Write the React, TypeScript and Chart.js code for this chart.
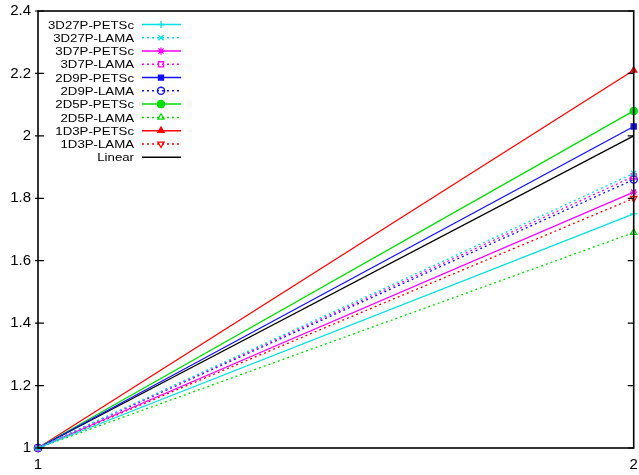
import React, { useEffect, useRef } from 'react';
import { Chart, registerables } from 'chart.js';
import { drawPoint } from 'chart.js/helpers';

Chart.register(...registerables);

// ---- data ----
const xValues = [1, 2];
const seriesNames = [
  '3D27P-PETSc', '3D27P-LAMA', '3D7P-PETSc', '3D7P-LAMA', '2D9P-PETSc', '2D9P-LAMA',
  '2D5P-PETSc', '2D5P-LAMA', '1D3P-PETSc', '1D3P-LAMA', 'Linear',
];
const s3D27P_PETSc = [1, 1.75];
const s3D27P_LAMA = [1, 1.88];
const s3D7P_PETSc = [1, 1.82];
const s3D7P_LAMA = [1, 1.87];
const s2D9P_PETSc = [1, 2.03];
const s2D9P_LAMA = [1, 1.86];
const s2D5P_PETSc = [1, 2.08];
const s2D5P_LAMA = [1, 1.69];
const s1D3P_PETSc = [1, 2.21];
const s1D3P_LAMA = [1, 1.8];
const sLinear = [1, 2];
const yTickValues = [1, 1.2, 1.4, 1.6, 1.8, 2, 2.2, 2.4];
const yTickLabels = ['1', '1.2', '1.4', '1.6', '1.8', '2', '2.2', '2.4'];
const xTickValues = [1, 2];
const xTickLabels = ['1', '2'];

const seriesValues = [
  s3D27P_PETSc, s3D27P_LAMA, s3D7P_PETSc, s3D7P_LAMA, s2D9P_PETSc, s2D9P_LAMA,
  s2D5P_PETSc, s2D5P_LAMA, s1D3P_PETSc, s1D3P_LAMA, sLinear,
];

// ---- styles ----
const CYAN = '#00e0e0';
const MAG = '#ff00ff';
const BLUE = '#1010ff';
const GREEN = '#00dd00';
const RED = '#ff0000';
const OPEN = 'rgba(255,255,255,0)';
const styles = [
  { color: CYAN, dash: [], point: 'cross', fill: CYAN },
  { color: CYAN, dash: [2, 3], point: 'crossRot', fill: CYAN },
  { color: MAG, dash: [], point: 'star', fill: MAG },
  { color: MAG, dash: [2, 3], point: 'rect', fill: OPEN },
  { color: BLUE, dash: [], point: 'rect', fill: BLUE },
  { color: BLUE, dash: [2, 3], point: 'circle', fill: OPEN },
  { color: GREEN, dash: [], point: 'circle', fill: GREEN },
  { color: GREEN, dash: [2, 3], point: 'triangle', fill: OPEN },
  { color: RED, dash: [], point: 'triangle', fill: RED },
  { color: RED, dash: [2, 3], point: 'triangle', fill: OPEN, rot: 180 },
  { color: '#000000', dash: [], point: false, fill: '#000' },
];

const FONT = '"Liberation Sans", Arial, Helvetica, sans-serif';
const PR = 3.6;

const framePlugin = {
  id: 'gnuFrame',
  afterDatasetsDraw(chart: any) {
    const ctx = chart.ctx;
    const a = chart.chartArea;
    const ys = chart.scales.y;
    ctx.save();
    ctx.strokeStyle = '#000';
    ctx.lineWidth = 1.6;
    ctx.strokeRect(a.left, a.top, a.right - a.left, a.bottom - a.top);
    ctx.lineWidth = 1.2;
    yTickValues.forEach((v) => {
      const py = ys.getPixelForValue(v);
      ctx.beginPath();
      ctx.moveTo(a.left - 3, py);
      ctx.lineTo(a.left + 6, py);
      ctx.moveTo(a.right - 6, py);
      ctx.lineTo(a.right, py);
      ctx.stroke();
    });
    ctx.restore();
  },
};

const legendPlugin = {
  id: 'gnuLegend',
  afterDraw(chart: any) {
    const ctx = chart.ctx;
    const a = chart.chartArea;
    chart.data.datasets.forEach((ds: any, i: number) => {
      const y = a.top + 13.5 + 13.27 * i;
      ctx.save();
      ctx.font = '11.5px ' + FONT;
      ctx.fillStyle = '#000';
      ctx.textAlign = 'right';
      ctx.textBaseline = 'middle';
      ctx.translate(a.left + 96, y + 1);
      ctx.scale(1.15, 1);
      ctx.fillText(ds.label, 0, 0);
      ctx.restore();

      ctx.save();
      ctx.strokeStyle = ds.borderColor;
      ctx.lineWidth = 1.5;
      ctx.setLineDash(ds.borderDash || []);
      ctx.beginPath();
      ctx.moveTo(a.left + 104, y);
      ctx.lineTo(a.left + 143, y);
      ctx.stroke();
      ctx.setLineDash([]);
      if (ds.pointStyle) {
        ctx.fillStyle = ds.pointBackgroundColor;
        ctx.lineWidth = 1.3;
        drawPoint(ctx, { pointStyle: ds.pointStyle, rotation: ds.pointRotation || 0, radius: PR, borderWidth: 1.3 }, a.left + 123, y);
      }
      ctx.restore();
    });
  },
};

export default function App() {
  const ref = useRef<HTMLCanvasElement>(null);
  useEffect(() => {
    if (!ref.current) return;
    const datasets = seriesNames.map((name, i) => {
      const st = styles[i];
      return {
        label: name,
        data: xValues.map((x, j) => ({ x, y: seriesValues[i][j] })),
        borderColor: st.color,
        backgroundColor: st.fill,
        borderWidth: 1.3,
        borderDash: st.dash,
        pointStyle: st.point as any,
        pointRotation: (st as any).rot || 0,
        pointRadius: st.point ? PR : 0,
        pointBorderWidth: 1.3,
        pointBorderColor: st.color,
        pointBackgroundColor: st.fill,
        clip: false as any,
        tension: 0,
      };
    });
    const chart = new Chart(ref.current, {
      type: 'line',
      data: { datasets },
      options: {
        animation: false,
        responsive: false,
        maintainAspectRatio: false,
        layout: { padding: { top: 11, right: 3, left: 0, bottom: 0 } },
        plugins: { legend: { display: false }, tooltip: { enabled: false } },
        scales: {
          x: {
            type: 'linear',
            min: 1,
            max: 2,
            afterBuildTicks: (s: any) => { s.ticks = xTickValues.map((v) => ({ value: v })); },
            afterFit: (s: any) => { s.height = 27; s.paddingLeft = 0; s.paddingRight = 0; },
            grid: { display: false, drawTicks: false },
            border: { display: false },
            ticks: {
              color: '#000', font: { family: FONT, size: 15 }, padding: 8, maxRotation: 0, autoSkip: false,
              callback: (v: any) => xTickLabels[xTickValues.indexOf(Number(v))] ?? String(v),
            },
          },
          y: {
            type: 'linear',
            min: 1,
            max: 2.4,
            afterBuildTicks: (s: any) => { s.ticks = yTickValues.map((v) => ({ value: v })); },
            afterFit: (s: any) => { s.width = 38; s.paddingTop = 0; s.paddingBottom = 0; },
            grid: { display: false, drawTicks: false },
            border: { display: false },
            ticks: {
              color: '#000', font: { family: FONT, size: 15 }, padding: 7, autoSkip: false,
              callback: (v: any) => {
                const k = yTickValues.findIndex((t) => Math.abs(t - Number(v)) < 1e-9);
                return k >= 0 ? yTickLabels[k] : String(v);
              },
            },
          },
        },
      },
      plugins: [framePlugin, legendPlugin],
    });
    return () => chart.destroy();
  }, []);
  return (
    <div style={{ position: 'absolute', left: 0, top: 0, width: 639, height: 475, background: '#fff' }}>
      <canvas ref={ref} width={639} height={475} />
    </div>
  );
}
